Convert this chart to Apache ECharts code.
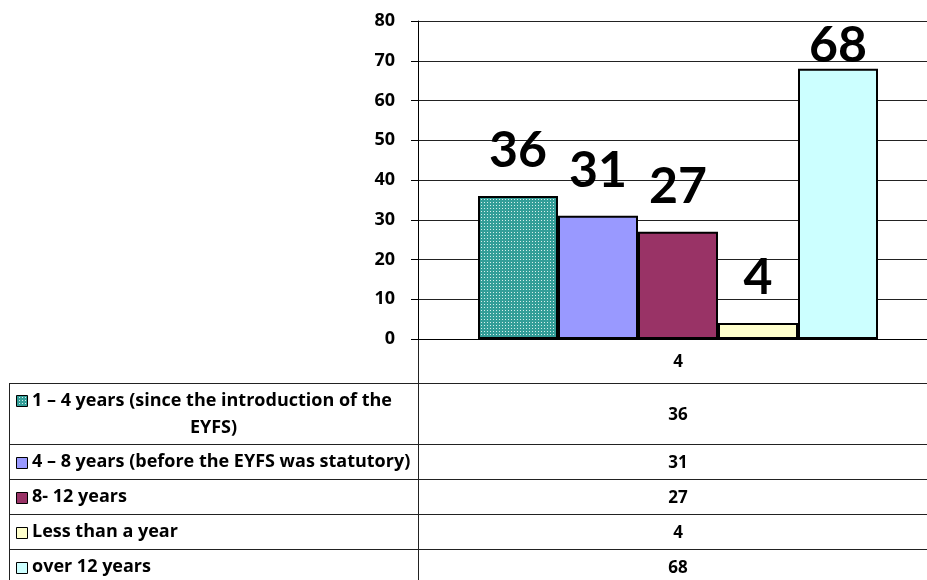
<!DOCTYPE html>
<html>
<head>
<meta charset="utf-8">
<script src="https://cdn.jsdelivr.net/npm/echarts@6/dist/echarts.min.js"></script>
<style>
	html, body { margin: 0; padding: 0; background: #fff; }
	#chart { width: 927px; height: 580px; }
</style>
</head>
<body>
<div id="chart"></div>
<script>
	// data
	var categories = ['4'];
	var seriesNames = [
		'1 – 4 years (since the introduction of the EYFS)',
		'4 – 8 years (before the EYFS was statutory)',
		'8- 12 years',
		'Less than a year',
		'over 12 years'
	];
	var seriesValues = [36, 31, 27, 4, 68];
	var yMin = 0, yMax = 80, yStep = 10;

	// dotted teal fill of the first series
	function makeDots() {
		var c = document.createElement('canvas');
		c.width = 3; c.height = 3;
		var g = c.getContext('2d');
		g.fillStyle = '#339e98';
		g.fillRect(0, 0, 3, 3);
		g.fillStyle = '#d6efec';
		g.fillRect(1, 1, 1, 1);
		return { image: c, repeat: 'repeat' };
	}
	var dots = makeDots();
	var fills = [dots, '#9999ff', '#993366', '#ffffcc', '#ccffff'];

	var bigFont = 'Lato, "Open Sans", sans-serif';
	var font = '"Open Sans", Lato, sans-serif';
	var chart = echarts.init(document.getElementById('chart'));

	var series = seriesNames.map(function (name, i) {
		return {
			name: name,
			type: 'bar',
			data: [seriesValues[i]],
			barWidth: 80,
			barGap: '0%',
			itemStyle: { color: fills[i], borderColor: '#000', borderWidth: 2 },
			label: {
				show: true,
				position: 'top',
				distance: seriesValues[i] > 60 ? -2 : 20,
				color: '#000',
				fontFamily: bigFont,
				fontWeight: 'bold',
				fontSize: 50
			}
		};
	});

	// data table under the plot
	var rowTops = [383, 444, 479, 514, 549, 584];
	var tableLeft = 9, colDiv = 418, valueX = 678;
	var graphics = [];
	function hline(y, x1, x2) {
		graphics.push({ type: 'line', shape: { x1: x1, y1: y, x2: x2, y2: y }, style: { stroke: '#222', lineWidth: 1 } });
	}
	function vline(x, y1, y2) {
		graphics.push({ type: 'line', shape: { x1: x, y1: y1, x2: x, y2: y2 }, style: { stroke: '#222', lineWidth: 1 } });
	}
	for (var r = 0; r < 5; r++) hline(rowTops[r] + 0.5, tableLeft, 927);
	vline(tableLeft + 0.5, rowTops[0], 580);
	vline(colDiv + 0.5, 339, 580);

	seriesNames.forEach(function (name, i) {
		var cy = (rowTops[i] + rowTops[i + 1]) / 2;
		var lines = [name];
		if (name.length > 44) {
			var k = name.lastIndexOf(' ');
			lines = [name.slice(0, k), name.slice(k + 1)];
		}
		var y1 = lines.length > 1 ? cy - 13.5 : cy;
		graphics.push({
			type: 'rect', shape: { x: 16.5, y: Math.round(y1 - 5) + 0.5, width: 11, height: 11 },
			style: { fill: fills[i], stroke: '#000', lineWidth: 1 }
		});
		graphics.push({
			type: 'text', x: 32, y: y1 + 0.5,
			style: { text: lines[0], font: 'bold 18px ' + font, fill: '#000', align: 'left', verticalAlign: 'middle' }
		});
		if (lines.length > 1) {
			graphics.push({
				type: 'text', x: (tableLeft + colDiv) / 2, y: cy + 14,
				style: { text: lines[1], font: 'bold 18px ' + font, fill: '#000', align: 'center', verticalAlign: 'middle' }
			});
		}
		graphics.push({
			type: 'text', x: valueX, y: cy + 1.5,
			style: { text: String(seriesValues[i]), font: 'bold 17px ' + font, fill: '#000', align: 'center', verticalAlign: 'middle' }
		});
	});

	chart.setOption({
		backgroundColor: '#fff',
		animation: false,
		grid: { left: 418, width: 520, top: 21, bottom: 241, outerBoundsMode: 'none' },
		xAxis: {
			type: 'category',
			data: categories,
			axisLine: { show: true, lineStyle: { color: '#000', width: 1 } },
			axisTick: { show: false },
			axisLabel: { margin: 15, color: '#000', fontFamily: font, fontWeight: 'bold', fontSize: 17 }
		},
		yAxis: {
			type: 'value',
			min: yMin, max: yMax, interval: yStep,
			axisLine: { show: true, lineStyle: { color: '#000', width: 1 } },
			axisTick: { show: true, length: 7, lineStyle: { color: '#000' } },
			axisLabel: { margin: 23, color: '#000', fontFamily: font, fontWeight: 'bold', fontSize: 18 },
			splitLine: { show: true, lineStyle: { color: '#222', width: 1 } }
		},
		series: series,
		graphic: graphics
	});
</script>
</body>
</html>
